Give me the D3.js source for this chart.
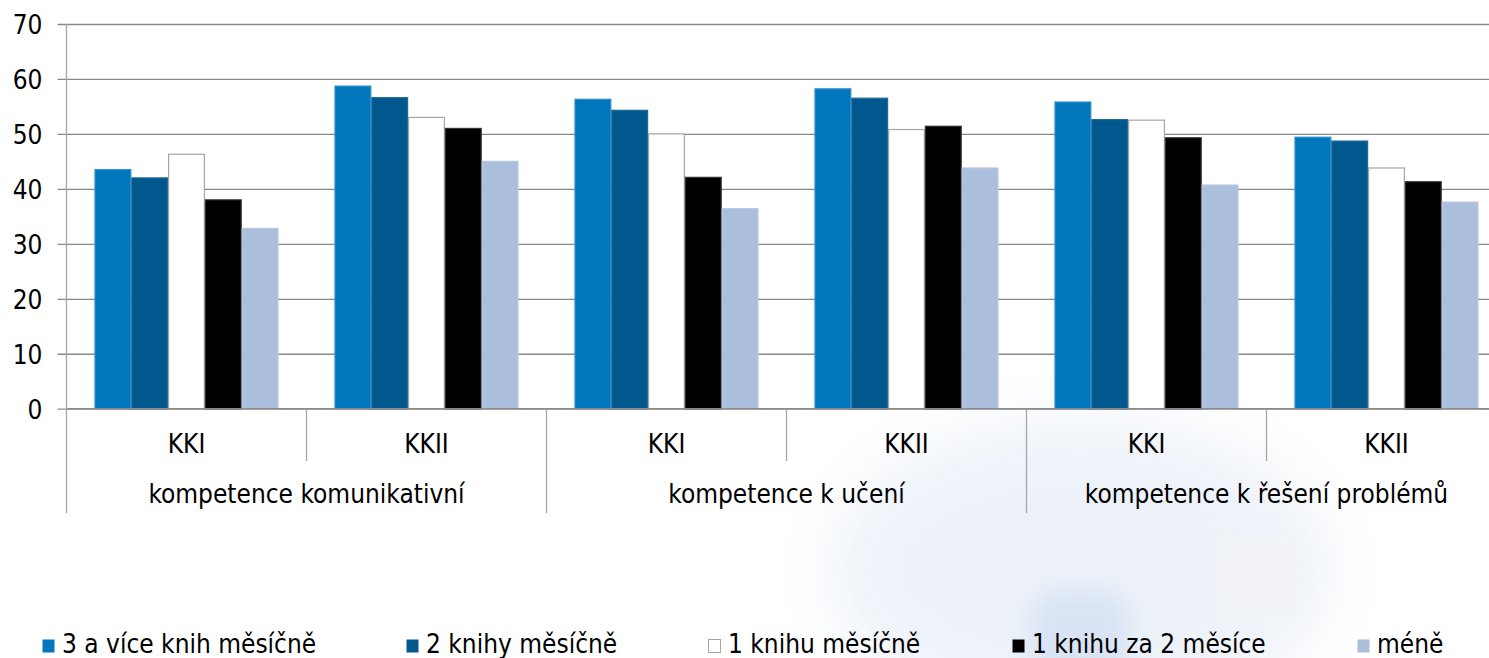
<!DOCTYPE html>
<html>
<head>
<meta charset="utf-8">
<script src="https://cdn.jsdelivr.net/npm/d3@7"></script>
<style>
  html, body { margin: 0; padding: 0; background: #fff; }
  svg { display: block; font-family: "DejaVu Sans", sans-serif; font-stretch: condensed; }
</style>
</head>
<body>
<div id="chart"></div>
<script>
// data
const groups = ["kompetence komunikativní", "kompetence k učení", "kompetence k řešení problémů"];
const levels = ["KKI", "KKII"];
const series = ["3 a více knih měsíčně", "2 knihy měsíčně", "1 knihu měsíčně", "1 knihu za 2 měsíce", "méně"];
// one value per subcategory (KKI, KKII for each group), in order
const s3aVice   = [43.5, 58.7, 56.3, 58.2, 55.8, 49.4];
const s2knihy   = [42.0, 56.6, 54.3, 56.5, 52.6, 48.7];
const s1knihu   = [46.3, 53.0, 50.0, 50.8, 52.5, 43.8];
const s1za2     = [38.0, 51.0, 42.1, 51.4, 49.3, 41.3];
const sMene     = [32.8, 45.0, 36.4, 43.8, 40.7, 37.6];
const yTicks = [0, 10, 20, 30, 40, 50, 60, 70];

const values = [s3aVice, s2knihy, s1knihu, s1za2, sMene];
const colors = ["#0077bd", "#00588e", "#ffffff", "#000000", "#abbedc"];
const strokes = ["#2a8cc8", "#1f6a99", "#a6a6a6", "#333333", "#b8c8e2"];

const width = 1489, height = 658;
const left = 66.5, band = 240;

const svg = d3.select("#chart").append("svg")
    .attr("width", width)
    .attr("height", height);

// faint watermark in the background (bottom right)
const defs = svg.append("defs");
defs.append("filter").attr("id", "blur").attr("x", "-50%").attr("y", "-50%").attr("width", "200%").attr("height", "200%")
  .append("feGaussianBlur").attr("stdDeviation", 30);
defs.append("filter").attr("id", "blur2").attr("x", "-50%").attr("y", "-50%").attr("width", "200%").attr("height", "200%")
  .append("feGaussianBlur").attr("stdDeviation", 12);
const wm = svg.append("g").attr("opacity", 0.5);
wm.append("ellipse").attr("cx", 1080).attr("cy", 570).attr("rx", 250).attr("ry", 150)
  .attr("fill", "#dce6f4").attr("filter", "url(#blur)");
wm.append("rect").attr("x", 1030).attr("y", 590).attr("width", 100).attr("height", 100).attr("rx", 30)
  .attr("fill", "#b3c9ea").attr("filter", "url(#blur2)");
wm.append("rect").attr("x", 1215).attr("y", 535).attr("width", 85).attr("height", 85)
  .attr("fill", "#e4e7ec").attr("filter", "url(#blur2)");

const subcats = groups.flatMap(g => levels.map(l => g + "|" + l));

const x = d3.scaleBand()
    .domain(subcats)
    .range([left, left + band * subcats.length])
    .paddingInner(0).paddingOuter(0);

const xs = d3.scaleBand()
    .domain(series)
    .range([28, band - 28])
    .paddingInner(0);

const y = d3.scaleLinear()
    .domain([0, 70])
    .range([408.7, 24]);

// grid lines
const yAxis = svg.append("g")
    .attr("transform", `translate(${left},0)`)
    .call(d3.axisLeft(y).tickValues(yTicks).tickSize(-(width - left)).tickPadding(0));
yAxis.select(".domain").remove();
yAxis.selectAll(".tick line")
    .attr("x1", -9)
    .attr("stroke", "#898989")
    .attr("stroke-width", 1.3);
yAxis.selectAll(".tick text")
    .attr("x", -24)
    .attr("dy", "0.36em")
    .attr("fill", "#000")
    .style("font-size", "26px")
    .style("font-family", "'DejaVu Sans', sans-serif");

// bars
const barG = svg.append("g");
series.forEach((s, si) => {
  barG.selectAll(null)
    .data(values[si].map((v, i) => ({ key: subcats[i], v })))
    .enter().append("rect")
      .attr("x", d => x(d.key) + xs(s) + 0.5)
      .attr("y", d => y(d.v))
      .attr("width", xs.bandwidth() - 1)
      .attr("height", d => y(0) - y(d.v))
      .attr("fill", colors[si])
      .attr("stroke", strokes[si])
      .attr("stroke-width", 1.2);
});

// category axis
const axisG = svg.append("g");
axisG.append("line")
    .attr("x1", left).attr("x2", width)
    .attr("y1", y(0)).attr("y2", y(0))
    .attr("stroke", "#898989").attr("stroke-width", 1.3);
axisG.append("line")
    .attr("x1", left).attr("x2", left)
    .attr("y1", y(70)).attr("y2", 513)
    .attr("stroke", "#a6a6a6").attr("stroke-width", 1.3);

subcats.forEach((k, i) => {
  if (i === 0) return;
  axisG.append("line")
    .attr("x1", x(k)).attr("x2", x(k))
    .attr("y1", y(0)).attr("y2", i % 2 === 0 ? 513 : 461)
    .attr("stroke", "#a6a6a6").attr("stroke-width", 1.3);
});

axisG.selectAll(".lvl")
  .data(subcats)
  .enter().append("text")
    .attr("x", d => x(d) + band / 2)
    .attr("y", 453)
    .attr("text-anchor", "middle")
    .style("font-size", "26px")
    .text(d => d.split("|")[1]);

axisG.selectAll(".grp")
  .data(groups)
  .enter().append("text")
    .attr("x", (d, i) => x(subcats[i * 2]) + band)
    .attr("y", 503)
    .attr("text-anchor", "middle")
    .style("font-size", "26px")
    .text(d => d);

// legend
const legendX = [42, 406, 708, 1012, 1357];
const legend = svg.append("g");
series.forEach((s, i) => {
  const g = legend.append("g").attr("transform", `translate(${legendX[i]},0)`);
  g.append("rect")
    .attr("x", 0.5).attr("y", 639.5)
    .attr("width", 12).attr("height", 13)
    .attr("fill", colors[i])
    .attr("stroke", i === 2 ? "#a6a6a6" : "none");
  g.append("text")
    .attr("x", 20).attr("y", 653)
    .style("font-size", "26px")
    .text(s);
});
</script>
</body>
</html>
